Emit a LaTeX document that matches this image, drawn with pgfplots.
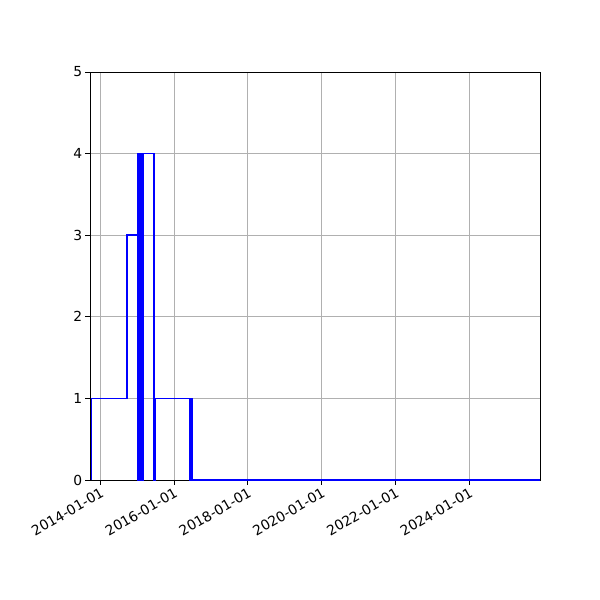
\documentclass[border=0pt]{standalone}
\usepackage{fontspec}
\setmainfont{DejaVu Sans}
\usepackage{pgfplots}
\pgfplotsset{compat=1.18}
\definecolor{gridgray}{HTML}{B0B0B0}
\begin{document}
\begin{tikzpicture}
% full 600x600 canvas (1px = 0.72bp)
\path (-64.8bp,-86.4bp) rectangle (367.2bp,345.6bp);
\begin{axis}[
    at={(0,0)}, anchor=south west,
    scale only axis,
    width=324bp, height=293.76bp,
    xmin=-102, xmax=4354,
    ymin=0, ymax=5,
    xtick={0,730,1461,2191,2922,3652},
    xticklabels={2014-01-01,2016-01-01,2018-01-01,2020-01-01,2022-01-01,2024-01-01},
    ytick={0,1,2,3,4,5},
    xticklabel style={rotate=30, anchor=north east, inner sep=1pt},
    yticklabel style={inner sep=2pt},
    tick align=outside,
    major tick length=3.5bp,
    xtick pos=left, ytick pos=left,
    tick style={black, line width=0.58bp},
    axis line style={line width=0.58bp},
    grid=major,
    grid style={gridgray, line width=0.58bp},
    /pgf/number format/assume math mode=true,
    tick label style={font=\fontsize{10}{12}\selectfont},
]
\addplot[const plot, blue, line width=1.08bp] coordinates {
    (-89,0) (-89,1) (266,3) (369,4)
    (372,0) (375,4) (378,0) (381,4) (384,0) (387,4) (390,0) (393,4)
    (396,0) (399,4) (402,0) (405,4) (408,0) (411,4) (414,0) (417,4)
    (420,0) (424,4)
    (534,0) (544,1) (890,0) (900,1) (911,0) (4354,0)
};
\end{axis}
\end{tikzpicture}
\end{document}
